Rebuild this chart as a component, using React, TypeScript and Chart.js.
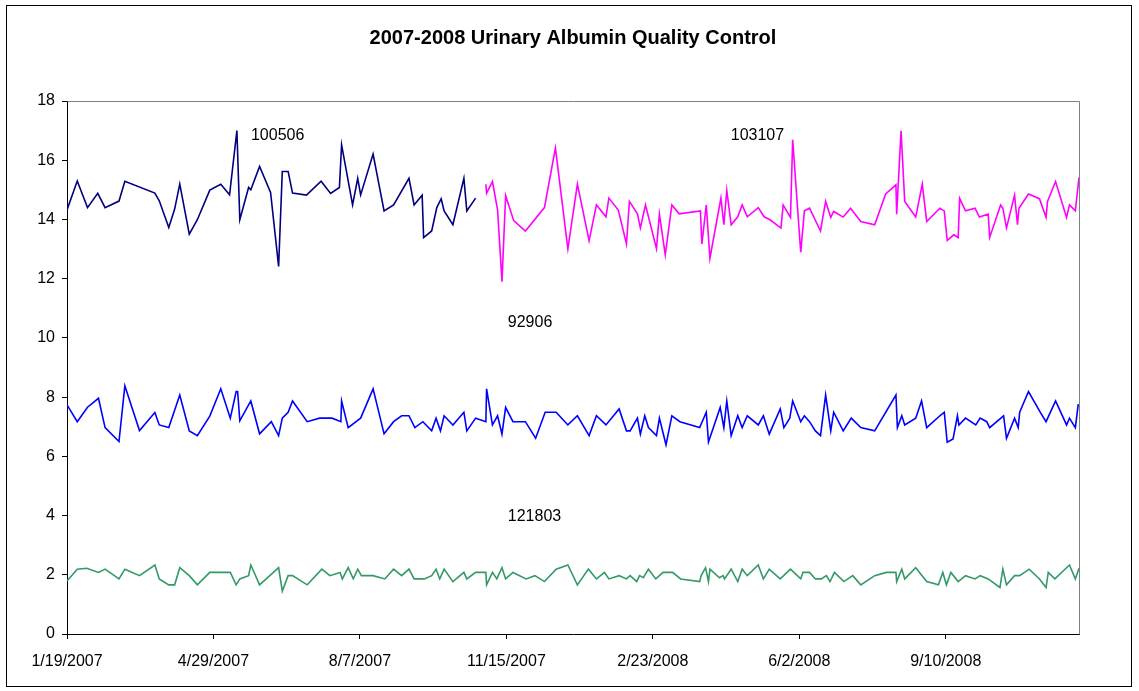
import React, { useEffect, useRef } from "react";
import { Chart, registerables } from "chart.js";

Chart.register(...registerables);

// Days since 1/19/2007
const BASE_DATE = Date.UTC(2007, 0, 19);
const X_MAX_DAY = 691;
const xTickDays = [0, 100, 200, 300, 400, 500, 600];
const yTicks = { min: 0, max: 18, step: 2 };

const title = "2007-2008 Urinary Albumin Quality Control";

// Lot 100506 (navy)
const days100506 = [0, 7, 14, 21, 26, 35.5, 39.5, 60, 63, 69.5, 73.5, 77, 83.5, 89, 97.5, 105, 111, 116, 118, 124, 125.5, 131.5, 139, 144.5, 147, 151, 154, 163.5, 173.5, 180, 186, 187.5, 195, 198.5, 200.5, 209, 216.5, 223, 233.5, 237, 242.5, 243.5, 249, 252.5, 255.5, 257.5, 263.5, 271, 273, 279];
const vals100506 = [14.32, 15.3, 14.4, 14.88, 14.4, 14.62, 15.29, 14.89, 14.63, 13.73, 14.35, 15.19, 13.5, 13.99, 14.99, 15.19, 14.83, 17.0, 13.99, 15.08, 15.0, 15.79, 14.91, 12.41, 15.62, 15.62, 14.89, 14.82, 15.29, 14.88, 15.08, 16.52, 14.49, 15.39, 14.83, 16.21, 14.29, 14.49, 15.39, 14.49, 14.82, 13.39, 13.61, 14.4, 14.7, 14.29, 13.82, 15.39, 14.29, 14.72];

// Lot 103107 (magenta)
const days103107 = [286, 286.5, 290.5, 294, 297, 299.5, 305, 313, 326, 333.5, 342, 348.5, 356.5, 361.5, 368, 370, 376.5, 382, 384, 389.5, 391.5, 395, 402.5, 404.5, 408.5, 413, 418, 432.5, 433.5, 436.5, 439, 446.5, 448.5, 450.5, 453.5, 458, 461, 464.5, 472, 476, 480, 487.5, 489, 494, 495.5, 501, 503.5, 507, 514.5, 518, 521.5, 523.5, 530, 535, 542, 551.5, 559, 566, 566.5, 569.5, 572, 579.5, 584, 587, 596, 599, 601, 605.5, 608.5, 609.5, 613.5, 620, 623, 629, 630, 637.5, 639, 641.5, 647, 649, 650, 656.5, 664, 668.5, 669.5, 675, 682.5, 684.5, 688.5, 691];
const vals103107 = [15.19, 14.89, 15.28, 14.32, 11.9, 14.81, 13.96, 13.61, 14.4, 16.41, 13.01, 15.19, 13.28, 14.49, 14.09, 14.72, 14.31, 13.17, 14.61, 14.19, 13.71, 14.49, 13.01, 14.18, 12.8, 14.49, 14.19, 14.29, 13.17, 14.49, 12.69, 14.72, 13.82, 14.98, 13.82, 14.09, 14.49, 14.09, 14.4, 14.09, 13.99, 13.71, 14.49, 14.07, 16.69, 12.89, 14.29, 14.38, 13.61, 14.61, 14.07, 14.27, 14.08, 14.38, 13.93, 13.82, 14.86, 15.17, 14.18, 16.99, 14.61, 14.08, 15.19, 13.93, 14.38, 14.29, 13.29, 13.48, 13.39, 14.71, 14.29, 14.38, 14.08, 14.18, 13.39, 14.49, 14.38, 13.71, 14.82, 13.82, 14.38, 14.86, 14.7, 14.07, 14.61, 15.28, 14.07, 14.49, 14.29, 15.42];

// Lot 92906 (blue)
const days92906 = [0, 7, 14, 21.5, 26, 35.5, 39.5, 49.5, 60, 63, 69.5, 77, 83.5, 89, 97.5, 105, 111.5, 115.5, 116.5, 118, 125.5, 131.5, 139.5, 144.5, 147, 151, 154, 164, 172.5, 181, 187, 187.5, 192, 200.5, 209, 216.5, 223, 228.5, 233.5, 237.5, 243, 249, 252, 255, 257.5, 263.5, 271, 273, 279, 286, 286.5, 290.5, 294, 297, 299.5, 304.5, 313, 320, 326.5, 334, 342, 348.5, 356.5, 361.5, 368, 377, 382, 384.5, 389.5, 391.5, 394.5, 397, 402.5, 404.5, 409, 413, 418.5, 432, 436.5, 438, 446, 448.5, 450.5, 453.5, 458, 461, 464.5, 472, 475.5, 479.5, 487, 489.5, 493.5, 495.5, 501, 503.5, 507, 511, 514.5, 518, 521.5, 523.5, 530, 535.5, 542, 551.5, 566, 567, 570, 572, 579.5, 583.5, 587, 596, 599, 601, 605, 608, 609, 613.5, 620.5, 623.5, 628, 630, 639.5, 641.5, 647, 649.5, 650.5, 656.5, 664.5, 668.5, 675, 682.5, 684.5, 688.5, 690.5];
const vals92906 = [7.74, 7.17, 7.66, 7.96, 6.97, 6.5, 8.38, 6.87, 7.48, 7.06, 6.97, 8.07, 6.86, 6.7, 7.36, 8.28, 7.29, 8.19, 8.19, 7.2, 7.87, 6.76, 7.17, 6.7, 7.29, 7.49, 7.87, 7.17, 7.29, 7.29, 7.17, 7.87, 6.97, 7.29, 8.28, 6.76, 7.17, 7.37, 7.37, 6.97, 7.17, 6.86, 7.29, 6.86, 7.37, 7.06, 7.49, 6.86, 7.29, 7.17, 8.28, 7.06, 7.37, 6.75, 7.65, 7.17, 7.17, 6.61, 7.49, 7.49, 7.06, 7.37, 6.7, 7.37, 7.06, 7.6, 6.86, 6.86, 7.29, 6.75, 7.37, 6.97, 6.7, 7.29, 6.39, 7.37, 7.17, 6.97, 7.49, 6.48, 7.65, 6.97, 7.87, 6.7, 7.37, 6.97, 7.37, 7.06, 7.37, 6.75, 7.6, 6.97, 7.29, 7.87, 7.17, 7.37, 7.17, 6.86, 6.7, 8.07, 6.86, 7.49, 6.86, 7.29, 6.97, 6.86, 8.07, 6.97, 7.37, 7.06, 7.29, 7.87, 6.97, 7.37, 7.49, 6.48, 6.59, 7.37, 7.06, 7.29, 7.06, 7.29, 7.17, 6.97, 7.37, 6.61, 7.29, 6.97, 7.49, 8.19, 7.49, 7.17, 7.87, 7.06, 7.29, 6.97, 7.76];

// Lot 121803 (green)
const days121803 = [0, 7, 13.5, 21.5, 26, 35.5, 39.5, 49.5, 60, 63, 69.5, 73.5, 77, 83.5, 89, 97.5, 111.5, 115.5, 118, 124, 125.5, 131.5, 144.5, 147, 151, 154, 164, 174, 179.5, 186.5, 188, 192, 195.5, 198.5, 201, 209, 217, 223, 228.5, 233.5, 237, 244, 249, 252, 254.5, 257.5, 263.5, 271, 273, 279, 286, 286.5, 290.5, 293.5, 297, 299.5, 304.5, 313.5, 319.5, 326, 334, 342, 348.5, 356, 361.5, 367, 370, 377, 382, 384.5, 389, 391, 393.5, 397, 402, 407, 413.5, 419, 432, 433, 436, 438, 439, 445.5, 448, 449, 453.5, 458, 461, 464.5, 472, 475.5, 479.5, 487, 494, 501, 502.5, 507, 511, 515, 518.5, 521, 524, 530.5, 536.5, 542, 551.5, 559.5, 566, 566.5, 570, 572, 579.5, 587, 595, 598, 600.5, 603.5, 608.5, 613.5, 620, 623.5, 629, 637, 639, 641.5, 647, 650.5, 657, 664, 668.5, 670, 674.5, 684.5, 688.5, 691];
const vals121803 = [1.79, 2.19, 2.22, 2.08, 2.19, 1.86, 2.19, 1.97, 2.33, 1.86, 1.66, 1.66, 2.24, 1.97, 1.66, 2.08, 2.08, 1.66, 1.86, 1.97, 2.33, 1.66, 2.24, 1.45, 1.97, 1.97, 1.66, 2.19, 1.97, 2.08, 1.86, 2.24, 1.86, 2.19, 1.97, 1.97, 1.86, 2.19, 1.97, 2.19, 1.86, 1.86, 1.97, 2.19, 1.86, 2.19, 1.77, 2.08, 1.86, 2.08, 2.08, 1.66, 2.08, 1.86, 2.24, 1.86, 2.08, 1.86, 1.97, 1.77, 2.19, 2.33, 1.66, 2.19, 1.86, 2.08, 1.86, 1.97, 1.86, 1.97, 1.77, 1.97, 1.9, 2.19, 1.86, 2.08, 2.08, 1.86, 1.77, 1.97, 2.24, 1.77, 2.19, 1.9, 1.97, 1.86, 2.19, 1.77, 2.19, 1.97, 2.33, 1.86, 2.19, 1.86, 2.19, 1.86, 2.08, 2.08, 1.86, 1.86, 1.97, 1.77, 2.08, 1.77, 1.97, 1.66, 1.97, 2.08, 2.08, 1.77, 2.19, 1.86, 2.24, 1.77, 1.66, 2.08, 1.66, 2.08, 1.77, 1.97, 1.86, 1.97, 1.86, 1.57, 2.19, 1.66, 1.97, 1.97, 2.19, 1.86, 1.57, 2.08, 1.86, 2.33, 1.86, 2.22];

// Series name labels placed in data coordinates (day, value)
const seriesLabels = [
  { text: "100506", day: 125.6, value: 16.82 },
  { text: "103107", day: 453.2, value: 16.82 },
  { text: "92906", day: 301, value: 10.51 },
  { text: "121803", day: 301, value: 3.95 },
];

const FONT = "'Liberation Sans', Arial, Helvetica, sans-serif";

function formatDay(d: number): string {
  const t = new Date(BASE_DATE + d * 86400000);
  return `${t.getUTCMonth() + 1}/${t.getUTCDate()}/${t.getUTCFullYear()}`;
}

function toPoints(days: number[], vals: number[]) {
  return days.map((d, i) => ({ x: d, y: vals[i] }));
}

const decorPlugin = {
  id: "decor",
  beforeDraw(chart: any) {
    const ctx = chart.ctx;
    ctx.save();
    ctx.fillStyle = "#ffffff";
    ctx.fillRect(0, 0, chart.width, chart.height);
    ctx.restore();
  },
  afterDraw(chart: any) {
    const ctx = chart.ctx;
    const a = chart.chartArea;
    ctx.save();
    // outer border
    ctx.strokeStyle = "#000000";
    ctx.lineWidth = 1;
    ctx.strokeRect(6.5, 5.5, 1125, 681);
    // plot area top/right border
    ctx.strokeStyle = "#808080";
    ctx.beginPath();
    ctx.moveTo(Math.round(a.left) + 0.5, Math.round(a.top) + 0.5);
    ctx.lineTo(Math.round(a.right) + 0.5, Math.round(a.top) + 0.5);
    ctx.lineTo(Math.round(a.right) + 0.5, Math.round(a.bottom) + 0.5);
    ctx.stroke();
    // title
    ctx.fillStyle = "#000000";
    ctx.font = `bold 20px ${FONT}`;
    ctx.textAlign = "center";
    ctx.textBaseline = "middle";
    ctx.fillText(title, 573, 38);
    // series labels
    ctx.font = `16px ${FONT}`;
    ctx.textAlign = "left";
    const xs = chart.scales.x;
    const ys = chart.scales.y;
    for (const l of seriesLabels) {
      ctx.fillText(l.text, xs.getPixelForValue(l.day), ys.getPixelForValue(l.value));
    }
    ctx.restore();
  },
};

export default function App() {
  const ref = useRef<HTMLCanvasElement | null>(null);
  useEffect(() => {
    document.body.style.margin = "0";
    const canvas = ref.current;
    if (!canvas) return;
    const line = (label: string, days: number[], vals: number[], color: string) => ({
      label,
      data: toPoints(days, vals),
      borderColor: color,
      backgroundColor: color,
      borderWidth: 1.6,
      pointRadius: 0,
      tension: 0,
      fill: false,
    });
    const chart = new Chart(canvas, {
      type: "line",
      data: {
        datasets: [
          line("100506", days100506, vals100506, "#000080"),
          line("103107", days103107, vals103107, "#FF00FF"),
          line("92906", days92906, vals92906, "#0000FF"),
          line("121803", days121803, vals121803, "#339966"),
        ],
      },
      options: {
        responsive: false,
        animation: false,
        layout: { padding: { top: 101, right: 60, left: 0, bottom: 0 } },
        plugins: {
          legend: { display: false },
          title: { display: false },
          tooltip: { enabled: false },
        },
        scales: {
          x: {
            type: "linear",
            min: 0,
            max: X_MAX_DAY,
            afterBuildTicks: (s: any) => {
              s.ticks = xTickDays.map((v) => ({ value: v }));
            },
            afterFit: (s: any) => {
              s.height = 57;
            },
            ticks: {
              callback: (v: any) => formatDay(Number(v)),
              font: { family: FONT, size: 16 },
              color: "#000000",
              maxRotation: 0,
              minRotation: 0,
              autoSkip: false,
              padding: 13,
            },
            grid: {
              display: true,
              drawOnChartArea: false,
              drawTicks: true,
              tickLength: 5,
              color: "#000000",
            },
            border: { display: true, color: "#000000", width: 1 },
          },
          y: {
            min: yTicks.min,
            max: yTicks.max,
            afterFit: (s: any) => {
              s.width = 67;
            },
            ticks: {
              stepSize: yTicks.step,
              font: { family: FONT, size: 16 },
              color: "#000000",
              padding: 7,
            },
            grid: {
              display: true,
              drawOnChartArea: false,
              drawTicks: true,
              tickLength: 5,
              color: "#000000",
            },
            border: { display: true, color: "#000000", width: 1 },
          },
        },
      },
      plugins: [decorPlugin],
    } as any);
    return () => chart.destroy();
  }, []);
  return (
    <div style={{ width: 1139, height: 691 }}>
      <canvas ref={ref} width={1139} height={691} style={{ display: "block" }} />
    </div>
  );
}
